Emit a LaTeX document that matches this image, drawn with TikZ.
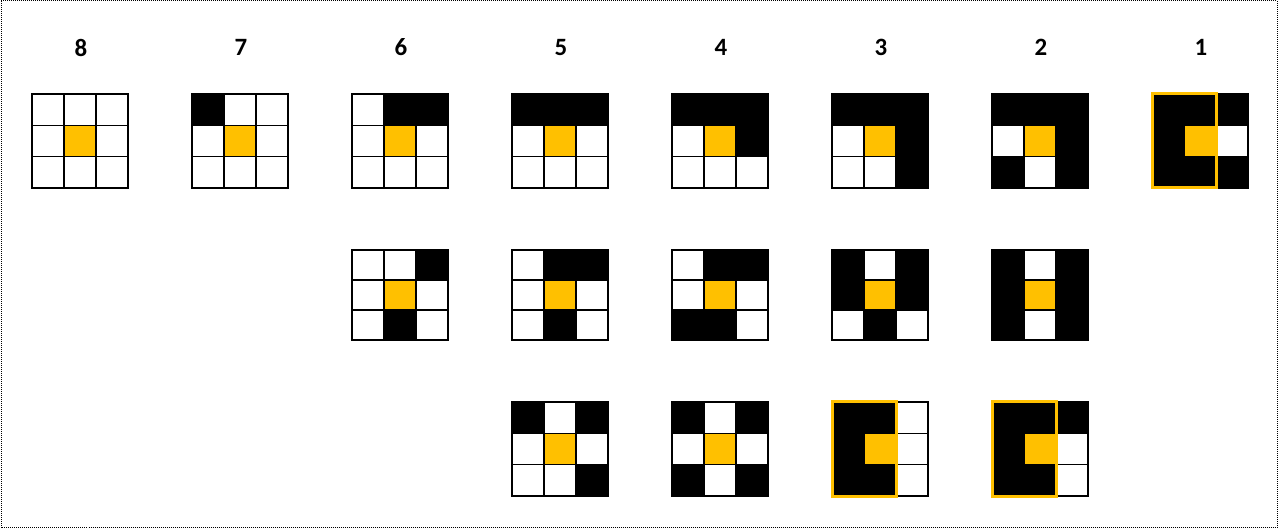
\documentclass[tikz,border=0pt]{standalone}
\usepackage{fontspec}
\setmainfont{Carlito}
\usepackage{tikz}
\definecolor{gold}{HTML}{FFC000}

\tikzset{
  cellbox/.style={draw=black,fill=white,line width=1.2bp},
  darkcell/.style={cellbox,fill=black},
  midcell/.style={cellbox,fill=gold},
  hilite/.style={draw=gold,line width=3bp},
  frame/.style={draw=black,line width=1bp,dash pattern=on 1bp off 1bp},
  lbl/.style={font=\fontsize{25}{25}\selectfont\bfseries},
}

% #1 left, #2 top, #3 cell height, #4 black cells (column/row)
\newcommand{\nbhd}[4]{%
  \foreach \i in {0,1,2}
    \foreach \j in {0,1,2}
      \draw[cellbox] (#1+32*\i,#2+#3*\j) rectangle ++(32,#3);
  \foreach \i/\j in {#4}
    \draw[darkcell] (#1+32*\i,#2+#3*\j) rectangle ++(32,#3);
  \draw[midcell] (#1+32,#2+#3) rectangle ++(32,#3);
}

\begin{document}
\begin{tikzpicture}[x=1bp,y=-1bp,line join=miter]
\useasboundingbox (0,0) rectangle (1282,530);
\draw[frame] (1,1) rectangle (1277,527.5);
%% column numbers
\foreach \n in {8,...,1}
  \node[lbl] (num\n) at ({81+160*(8-\n)},47.5) {\n};
%% first row
\nbhd{32}{94}{31.33}{1/1}
\nbhd{192}{94}{31.33}{0/0}
\nbhd{352}{94}{31.33}{1/0,2/0}
\nbhd{512}{94}{31.33}{0/0,1/0,2/0}
\nbhd{672}{94}{31.33}{0/0,1/0,2/0,2/1}
\nbhd{832}{94}{31.33}{0/0,1/0,2/0,2/1,2/2}
\nbhd{992}{94}{31.33}{0/0,1/0,2/0,2/1,2/2,0/2}
\nbhd{1152}{94}{31.33}{0/0,1/0,2/0,0/1,0/2,1/2,2/2}
%% second row
\nbhd{352}{250}{30}{2/0,1/2}
\nbhd{512}{250}{30}{1/0,2/0,1/2}
\nbhd{672}{250}{30}{1/0,2/0,0/2,1/2}
\nbhd{832}{250}{30}{0/0,2/0,0/1,2/1,1/2}
\nbhd{992}{250}{30}{0/0,0/1,0/2,2/0,2/1,2/2}
%% third row
\nbhd{512}{402}{31.33}{0/0,2/0,2/2}
\nbhd{672}{402}{31.33}{0/0,2/0,0/2,2/2}
\nbhd{832}{402}{31.33}{0/0,1/0,0/1,0/2,1/2}
\nbhd{992}{402}{31.33}{0/0,1/0,2/0,0/1,0/2,1/2}
%% highlighted blocks
\draw[hilite] (1152,94) rectangle (1216,188);
\draw[hilite] (832,402) rectangle (896,496);
\draw[hilite] (992,402) rectangle (1056,496);
\end{tikzpicture}
\end{document}
